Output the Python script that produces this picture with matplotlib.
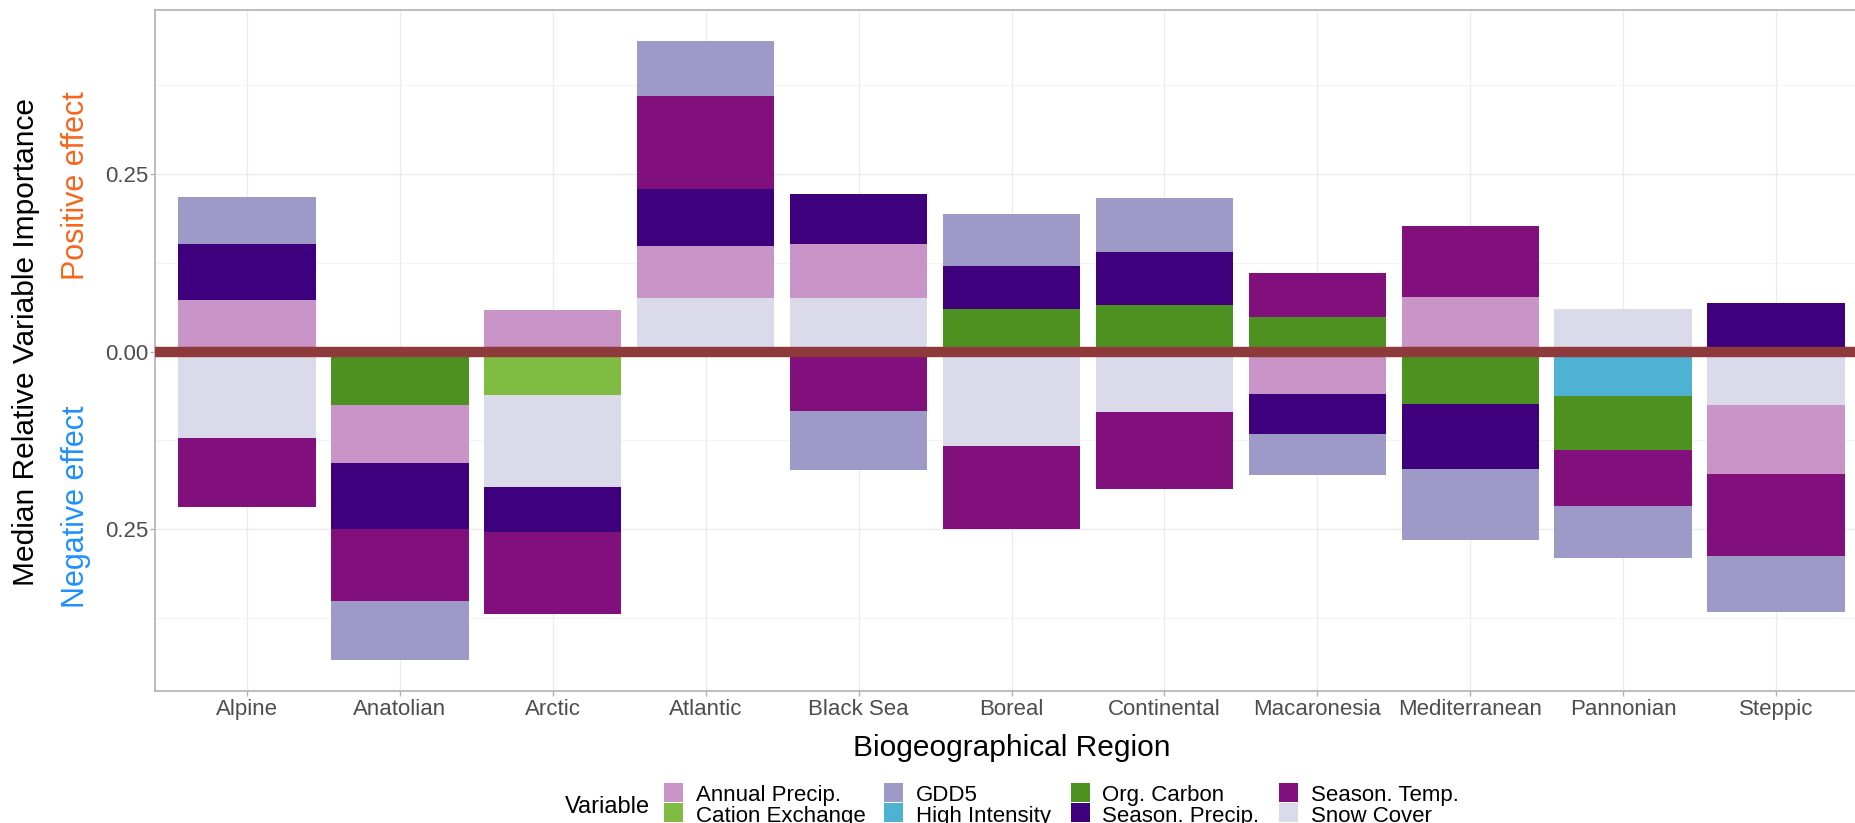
import numpy as np
import matplotlib
matplotlib.use("Agg")
import matplotlib.pyplot as plt
from matplotlib.patches import Rectangle

plt.rcParams['font.family'] = ['Liberation Sans', 'DejaVu Sans']

# data (median relative importance, sign = direction of effect)
regions = ["Alpine", "Anatolian", "Arctic", "Atlantic", "Black Sea", "Boreal",
           "Continental", "Macaronesia", "Mediterranean", "Pannonian", "Steppic"]

variables = ["Annual Precip.", "Cation Exchange", "GDD5", "High Intensity",
             "Org. Carbon", "Season. Precip.", "Season. Temp.", "Snow Cover"]

annual_precip   = [0.072, -0.082, 0.058, 0.073, 0.077, 0, 0, -0.059, 0.077, 0, -0.097]
cation_exchange = [0, 0, -0.061, 0, 0, 0, 0, 0, 0, 0, 0]
gdd5            = [0.066, -0.083, 0, 0.078, -0.082, 0.073, 0.076, -0.058, -0.100, -0.074, -0.078]
high_intensity  = [0, 0, 0, 0, 0, 0, 0, 0, 0, -0.063, 0]
org_carbon      = [0, -0.075, 0, 0, 0, 0.060, 0.066, 0.049, -0.074, -0.075, 0]
season_precip   = [0.080, -0.093, -0.064, 0.080, 0.070, 0.061, 0.074, -0.057, -0.091, 0, 0.069]
season_temp     = [-0.097, -0.101, -0.115, 0.130, -0.084, -0.116, -0.109, 0.061, 0.099, -0.079, -0.116]
snow_cover      = [-0.121, 0, -0.129, 0.076, 0.075, -0.133, -0.085, 0, 0, 0.060, -0.075]

values = dict(zip(variables, [annual_precip, cation_exchange, gdd5, high_intensity,
                              org_carbon, season_precip, season_temp, snow_cover]))

# order in which the pieces are stacked outward from zero
stack_order = {
    "Alpine":        ["Annual Precip.", "Season. Precip.", "GDD5", "Snow Cover", "Season. Temp."],
    "Anatolian":     ["Org. Carbon", "Annual Precip.", "Season. Precip.", "Season. Temp.", "GDD5"],
    "Arctic":        ["Annual Precip.", "Cation Exchange", "Snow Cover", "Season. Precip.", "Season. Temp."],
    "Atlantic":      ["Snow Cover", "Annual Precip.", "Season. Precip.", "Season. Temp.", "GDD5"],
    "Black Sea":     ["Snow Cover", "Annual Precip.", "Season. Precip.", "Season. Temp.", "GDD5"],
    "Boreal":        ["Org. Carbon", "Season. Precip.", "GDD5", "Snow Cover", "Season. Temp."],
    "Continental":   ["Org. Carbon", "Season. Precip.", "GDD5", "Snow Cover", "Season. Temp."],
    "Macaronesia":   ["Org. Carbon", "Season. Temp.", "Annual Precip.", "Season. Precip.", "GDD5"],
    "Mediterranean": ["Annual Precip.", "Season. Temp.", "Org. Carbon", "Season. Precip.", "GDD5"],
    "Pannonian":     ["Snow Cover", "High Intensity", "Org. Carbon", "Season. Temp.", "GDD5"],
    "Steppic":       ["Season. Precip.", "Snow Cover", "Annual Precip.", "Season. Temp.", "GDD5"],
}

colors = {
    "Annual Precip.": "#C994C7",
    "Cation Exchange": "#7FBC41",
    "GDD5": "#9E9AC8",
    "High Intensity": "#4EB3D3",
    "Org. Carbon": "#4D9221",
    "Season. Precip.": "#3F007D",
    "Season. Temp.": "#810F7C",
    "Snow Cover": "#DADAEB",
}

W, H = 1855, 823
fig = plt.figure(figsize=(W / 100, H / 100), dpi=100)

def fx(px):
    return px / W

def fy(py):
    return 1 - py / H

# panel runs past the right edge of the picture (the reference is cropped)
ax = fig.add_axes([fx(155), fy(691), fx(1868) - fx(155), fy(10) - fy(691)])

x = np.arange(1, len(regions) + 1)
top_sum = []
bot_sum = []
for i, reg in enumerate(regions):
    pos = 0.0
    neg = 0.0
    for var in stack_order[reg]:
        v = values[var][i]
        if v > 0:
            ax.bar(x[i], v, bottom=pos, width=0.9, color=colors[var], linewidth=0, zorder=2)
            pos += v
        elif v < 0:
            ax.bar(x[i], v, bottom=neg, width=0.9, color=colors[var], linewidth=0, zorder=2)
            neg += v
    top_sum.append(pos)
    bot_sum.append(neg)

lo, hi = min(bot_sum), max(top_sum)
pad = 0.05 * (hi - lo)
ax.set_ylim(lo - pad, hi + pad)
ax.set_xlim(0.4, len(regions) + 0.6)

ax.axhline(0, color="#8E3A3A", linewidth=7.5, zorder=3)

ax.set_xticks(x)
ax.set_xticklabels(regions)
ax.set_yticks([-0.25, 0, 0.25])
ax.set_yticklabels(["0.25", "0.00", "0.25"])
ax.set_yticks([-0.375, -0.125, 0.125, 0.375], minor=True)
ax.tick_params(axis="x", which="major", length=3.6, width=1, color="#B3B3B3",
               labelsize=16, labelcolor="#4D4D4D", pad=2.5)
ax.tick_params(axis="y", which="major", length=3.6, width=1, color="#B3B3B3",
               labelsize=16, labelcolor="#4D4D4D", pad=1.5)
ax.tick_params(axis="y", which="minor", length=0)

ax.grid(True, which="major", color="#EBEBEB", linewidth=1.0, zorder=0)
ax.grid(True, which="minor", axis="y", color="#F3F3F3", linewidth=0.8, zorder=0)
ax.set_axisbelow(True)
for s in ax.spines.values():
    s.set_color("#B8B8B8")
    s.set_linewidth(1.3)

# axis titles
fig.text(fx(1011.5), fy(756.5), "Biogeographical Region", fontsize=21.5,
         ha="center", va="baseline")
fig.text(fx(34), fy(342), "Median Relative Variable Importance", fontsize=21.5,
         rotation=90, rotation_mode="anchor", ha="center", va="baseline")
fig.text(fx(84), fy(186), "Positive effect", fontsize=22, color="#F8651C",
         rotation=90, rotation_mode="anchor", ha="center", va="baseline")
fig.text(fx(84), fy(507), "Negative effect", fontsize=22, color="#1E90FF",
         rotation=90, rotation_mode="anchor", ha="center", va="baseline")

# legend, two rows by four columns, title on the left
fig.text(fx(650), fy(813), "Variable", fontsize=17, ha="right", va="baseline")
col_left = [664, 884, 1070.5, 1278.6]
row_top = [782.7, 803.3]
row_base = [801, 821.6]
for k, var in enumerate(variables):
    c, r = k // 2, k % 2
    fig.patches.append(Rectangle((fx(col_left[c]), fy(row_top[r] + 19)), fx(19), 19 / H,
                                 transform=fig.transFigure, facecolor=colors[var],
                                 edgecolor="none"))
    fig.text(fx(col_left[c] + 32), fy(row_base[r]), var, fontsize=16, va="baseline")

fig.savefig("out.png", dpi=100)
